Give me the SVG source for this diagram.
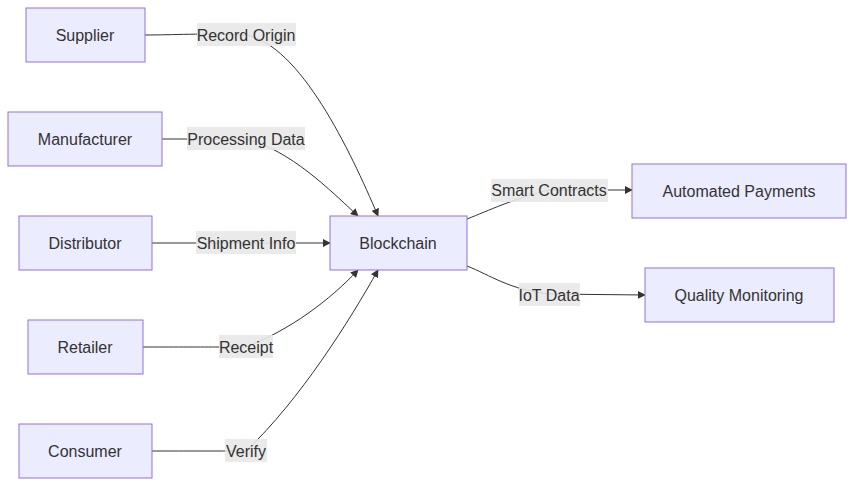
<svg xmlns="http://www.w3.org/2000/svg" width="854" height="486" viewBox="0 0 854 486">
<style>
.n rect{fill:#ECECFF;stroke:#9370DB;stroke-width:1}
text{font-family:"Liberation Sans",Arial,sans-serif;font-size:16px;fill:#333;text-anchor:middle;dominant-baseline:central}
.e path{fill:none;stroke:#333;stroke-width:1}
.lb{fill:#E8E8E8;opacity:0.9}
</style>
<defs><marker id="a" viewBox="0 0 10 10" refX="9" refY="5" markerWidth="8" markerHeight="8" orient="auto"><path d="M0,0L10,5L0,10z" fill="#333"/></marker></defs>
<rect width="854" height="486" fill="#fff"/>
<g class="e">
<path d="M145,35 C175,35 200,33 246,35 C300,45 350,150 378,216" marker-end="url(#a)"/>
<path d="M162,139 L246,139 C290,150 330,190 358,216" marker-end="url(#a)"/>
<path d="M152,243 L330,243" marker-end="url(#a)"/>
<path d="M143,347 C200,347 246,347 246,347 C290,330 330,300 358,270" marker-end="url(#a)"/>
<path d="M152,451 C200,451 246,451 246,451 C300,400 350,320 378,270" marker-end="url(#a)"/>
<path d="M467,219 C490,210 510,200 549,190 L632,190" marker-end="url(#a)"/>
<path d="M467,266 C490,275 510,290 549,294 L645,295" marker-end="url(#a)"/>
<rect class="lb" x="197" y="23" width="99" height="23"/><text x="246" y="35">Record Origin</text>
<rect class="lb" x="187" y="127" width="118" height="23"/><text x="246" y="139">Processing Data</text>
<rect class="lb" x="196" y="231" width="100" height="23"/><text x="246" y="243">Shipment Info</text>
<rect class="lb" x="219" y="335" width="54" height="23"/><text x="246" y="347">Receipt</text>
<rect class="lb" x="225" y="439" width="42" height="23"/><text x="246" y="451">Verify</text>
<rect class="lb" x="491" y="179" width="117" height="23"/><text x="549" y="190">Smart Contracts</text>
<rect class="lb" x="519" y="283" width="61" height="23"/><text x="549" y="295">IoT Data</text>
</g>
<g id="supplier" class="n"><rect x="26" y="8" width="119" height="54"/><text x="85" y="35">Supplier</text></g>
<g id="manufacturer" class="n"><rect x="8" y="112" width="154" height="54"/><text x="85" y="139">Manufacturer</text></g>
<g id="distributor" class="n"><rect x="19" y="216" width="133" height="54"/><text x="85" y="243">Distributor</text></g>
<g id="retailer" class="n"><rect x="28" y="320" width="115" height="54"/><text x="85" y="347">Retailer</text></g>
<g id="consumer" class="n"><rect x="19" y="424" width="133" height="54"/><text x="85" y="451">Consumer</text></g>
<g id="blockchain" class="n"><rect x="330" y="216" width="137" height="54"/><text x="398" y="243">Blockchain</text></g>
<g id="payments" class="n"><rect x="632" y="164" width="214" height="54"/><text x="739" y="191">Automated Payments</text></g>
<g id="quality" class="n"><rect x="645" y="268" width="189" height="54"/><text x="739" y="295">Quality Monitoring</text></g>
</svg>
